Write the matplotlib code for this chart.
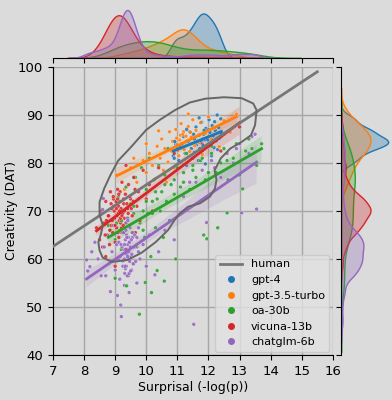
import matplotlib
matplotlib.use("Agg")
import matplotlib.pyplot as plt
from matplotlib.lines import Line2D
import numpy as np
import seaborn as sns

# ---- data (surprisal, creativity) ----
models = ["gpt-4", "gpt-3.5-turbo", "oa-30b", "vicuna-13b", "chatglm-6b"]
colors = ["#1f77b4", "#ff7f0e", "#2ca02c", "#d62728", "#9467bd"]

gpt4_x = [10.87, 10.95, 11.05, 11.1, 11.2, 11.25, 11.3, 11.35, 11.4, 11.45, 11.5, 11.55, 11.6, 11.62, 11.68,
          11.7, 11.75, 11.78, 11.8, 11.85, 11.88, 11.9, 11.92, 11.95, 12.0, 12.02, 12.05, 12.08, 12.1, 12.12,
          12.15, 12.18, 12.2, 12.22, 12.25, 12.28, 12.3, 12.33, 12.36, 12.4, 12.42, 11.3, 11.55, 12.0, 11.7,
          10.88, 10.9, 10.92, 11.0, 11.15, 11.45, 11.52, 11.65, 11.72, 11.82, 11.86, 11.98, 11.76, 11.83]
gpt4_y = [81.5, 84.0, 80.5, 83.5, 85.5, 82.0, 79.5, 84.5, 86.5, 83.0, 81.0, 85.0, 87.5, 83.8, 80.5,
          85.8, 84.2, 88.5, 82.5, 86.0, 84.8, 79.8, 87.2, 85.3, 83.5, 89.0, 86.4, 84.0, 81.5, 87.8,
          85.6, 83.2, 88.6, 86.8, 84.6, 90.0, 82.8, 87.4, 85.2, 89.2, 86.0, 87.0, 82.2, 86.9, 89.4,
          82.5, 81.0, 84.5, 83.0, 84.0, 84.0, 86.0, 84.5, 83.0, 85.0, 86.8, 84.8, 84.6, 83.6]

gpt35_x = [9.05, 9.3, 9.5, 9.7, 9.9, 10.0, 10.1, 10.2, 10.3, 10.35, 10.45, 10.5, 10.55, 10.6, 10.7,
           10.75, 10.8, 10.85, 10.9, 10.95, 11.0, 11.05, 11.1, 11.12, 11.15, 11.2, 11.25, 11.3, 11.35, 11.4,
           11.45, 11.5, 11.55, 11.6, 11.7, 11.75, 11.8, 11.9, 12.0, 12.1, 12.2, 12.35, 12.5, 12.7, 12.9,
           10.4, 11.35, 10.0, 9.6, 10.65, 11.08, 11.18, 11.22, 11.28, 11.42, 11.48, 11.02, 10.98]
gpt35_y = [77.5, 74.5, 79.0, 76.0, 80.5, 78.0, 82.0, 79.5, 76.8, 83.5, 81.0, 85.0, 78.5, 83.0, 80.2,
           86.5, 82.5, 84.5, 79.0, 87.0, 83.8, 81.5, 85.8, 88.2, 83.0, 86.5, 80.8, 84.6, 87.6, 82.4,
           85.4, 89.0, 83.6, 86.8, 84.2, 88.4, 81.8, 86.2, 89.6, 85.0, 87.4, 83.4, 88.8, 86.4, 90.2,
           86.7, 90.2, 84.0, 81.0, 76.0, 84.8, 86.0, 82.8, 85.6, 86.4, 84.0, 82.6, 85.2]

oa30_x = [8.78, 8.85, 8.9, 9.0, 9.05, 9.1, 9.15, 9.2, 9.25, 9.3, 9.35, 9.4, 9.45, 9.5, 9.55,
          9.6, 9.65, 9.7, 9.75, 9.78, 9.8, 9.85, 9.9, 9.95, 10.0, 10.05, 10.1, 10.15, 10.2, 10.25,
          10.3, 10.35, 10.4, 10.45, 10.5, 10.55, 10.6, 10.65, 10.7, 10.75, 10.8, 10.9, 11.0, 11.1, 11.2,
          11.3, 11.4, 11.5, 11.6, 11.75, 11.9, 12.0, 12.1, 12.25, 12.4, 12.6, 12.8, 13.0, 13.2, 13.4,
          13.55, 13.71, 11.85, 10.95, 12.3, 10.35, 10.58, 10.17, 9.37, 9.0, 9.97, 12.63, 13.1, 12.6, 11.95,
          9.2, 9.6, 10.0, 10.3, 10.6, 10.9, 11.2, 11.5, 11.8, 12.1, 12.5, 12.9, 13.3, 9.9, 10.2]
oa30_y = [67.0, 66.0, 70.5, 64.0, 67.5, 73.0, 66.0, 62.0, 69.5, 65.5, 75.0, 68.5, 60.0, 71.5, 65.5,
          69.5, 77.0, 62.5, 72.5, 48.5, 67.5, 79.0, 70.0, 64.5, 74.5, 69.5, 81.0, 60.5, 72.0, 76.5,
          66.5, 72.5, 79.5, 70.0, 74.0, 64.5, 77.5, 72.0, 83.0, 68.0, 75.5, 73.5, 79.0, 75.0, 76.0,
          82.0, 74.5, 78.5, 77.0, 80.5, 76.5, 78.0, 83.5, 78.0, 80.0, 80.5, 81.0, 77.5, 82.5, 83.0,
          79.5, 84.0, 65.0, 60.0, 66.5, 57.6, 55.4, 53.0, 54.4, 56.0, 55.1, 76.5, 74.6, 69.6, 64.2,
          68.0, 71.0, 72.0, 74.0, 75.5, 76.5, 78.0, 79.5, 81.0, 82.0, 83.0, 84.0, 85.0, 66.0, 69.5]

vicuna_x = [8.4, 8.5, 8.55, 8.6, 8.65, 8.7, 8.75, 8.8, 8.82, 8.85, 8.88, 8.9, 8.92, 8.95, 8.98,
            9.0, 9.02, 9.05, 9.08, 9.1, 9.12, 9.15, 9.18, 9.2, 9.22, 9.25, 9.28, 9.3, 9.33, 9.36,
            9.4, 9.43, 9.46, 9.5, 9.55, 9.6, 9.65, 9.7, 9.75, 9.8, 9.9, 10.0, 10.1, 10.2, 10.4,
            10.6, 10.9, 11.3, 11.8, 12.4, 13.0, 8.7, 9.35, 9.0,
            8.78, 8.83, 8.87, 8.91, 8.94, 8.97, 9.0, 9.03, 9.06, 9.09, 9.11, 9.13, 9.16, 9.19, 9.21,
            9.24, 9.27, 9.3, 9.34, 9.38, 9.42, 9.47, 9.52, 9.58, 9.64, 8.72, 8.68, 9.14, 9.17, 9.08,
            9.04, 9.26, 9.12, 8.95, 9.22]
vicuna_y = [66.5, 64.0, 70.0, 62.5, 67.5, 72.0, 65.0, 69.0, 63.0, 74.0, 67.0, 70.5, 65.5, 72.5, 68.5,
            63.5, 71.0, 66.5, 74.5, 69.5, 64.5, 72.0, 67.5, 70.0, 76.0, 65.5, 71.5, 68.5, 73.5, 62.0,
            70.5, 75.5, 67.0, 72.5, 69.0, 77.0, 65.5, 71.0, 74.0, 68.0, 78.5, 72.5, 75.5, 70.0, 79.0,
            76.5, 82.0, 80.0, 84.0, 82.5, 87.5, 60.5, 79.5, 58.5,
            69.0, 66.0, 71.5, 68.0, 73.0, 70.0, 67.0, 72.0, 69.0, 65.5, 71.0, 68.0, 74.0, 70.5, 66.5,
            69.5, 72.5, 70.0, 67.5, 71.5, 69.5, 73.0, 70.5, 72.0, 74.5, 68.0, 65.0, 70.0, 68.5, 72.5,
            70.5, 67.0, 73.5, 71.0, 69.0]

chatglm_x = [8.08, 8.12, 8.19, 8.25, 8.35, 8.45, 8.55, 8.62, 8.65, 8.7, 8.75, 8.8, 8.85, 8.9, 8.95,
             9.0, 9.05, 9.07, 9.1, 9.15, 9.18, 9.2, 9.25, 9.28, 9.3, 9.33, 9.36, 9.4, 9.43, 9.46,
             9.5, 9.53, 9.56, 9.6, 9.65, 9.7, 9.75, 9.8, 9.9, 10.0, 10.1, 10.28, 10.4, 10.6, 10.9,
             11.2, 11.53, 11.94, 12.4, 13.07, 13.55, 9.2, 8.6, 9.45, 11.6, 12.2, 12.8, 13.3,
             11.4, 11.8, 12.1, 12.6, 13.0, 13.4, 12.9, 13.5,
             9.22, 9.25, 9.28, 9.3, 9.31, 9.33, 9.34, 9.35, 9.36, 9.37, 9.38, 9.39, 9.4, 9.41, 9.42,
             9.43, 9.44, 9.45, 9.46, 9.47, 9.48, 9.49, 9.5, 9.52, 9.54, 9.56, 9.58, 9.6, 9.63, 9.66,
             9.12, 9.16, 9.19, 9.7, 9.75, 9.35, 9.3, 9.4, 9.38, 9.32]
chatglm_y = [59.8, 57.5, 58.4, 61.5, 63.5, 60.0, 56.5, 72.6, 62.5, 56.5, 65.0, 59.0, 53.2, 61.5, 67.0,
             57.7, 63.0, 52.4, 60.0, 55.8, 50.4, 65.5, 59.6, 62.0, 54.5, 58.0, 61.0, 68.5, 56.5, 63.5,
             60.5, 57.7, 64.5, 59.0, 62.5, 55.0, 66.5, 60.0, 63.0, 58.5, 65.0, 56.7, 61.5, 66.0, 64.0,
             73.0, 46.4, 67.6, 77.0, 69.6, 70.4, 48.0, 70.3, 53.0, 76.0, 79.0, 80.0, 82.0,
             76.0, 78.5, 80.5, 82.0, 84.0, 85.5, 83.0, 86.0,
             62.5, 58.5, 65.5, 60.0, 57.0, 64.0, 62.0, 67.5, 58.5, 65.0, 61.0, 56.5, 63.0, 68.0, 60.0,
             64.5, 61.5, 57.0, 63.5, 59.5, 66.5, 62.5, 57.5, 64.0, 61.0, 65.5, 59.0, 62.5, 65.0, 59.5,
             63.5, 60.5, 63.0, 64.5, 61.5, 66.0, 63.0, 60.5, 64.5, 58.5]

xs = [gpt4_x, gpt35_x, oa30_x, vicuna_x, chatglm_x]
ys = [gpt4_y, gpt35_y, oa30_y, vicuna_y, chatglm_y]

# human: density contour outline and regression line
human_contour_x = [8.9, 8.6, 8.5, 8.46, 8.55, 8.6, 8.5, 8.5, 8.65, 8.85, 9.1, 9.48, 10.0, 10.44, 10.92,
                   11.4, 11.9, 12.5, 13.07, 13.44, 13.55, 13.5, 13.37, 13.07, 12.7, 12.4, 12.2, 12.26,
                   12.21, 12.05, 11.73, 11.35, 11.08, 10.9, 10.7, 10.3, 9.85, 9.4, 8.9]
human_contour_y = [59.4, 60.3, 61.8, 63.5, 65.3, 67.1, 69.2, 71.9, 74.7, 77.5, 80.5, 83.1, 86.9, 89.0, 91.0,
                   92.6, 93.4, 93.7, 93.5, 92.4, 91.0, 87.9, 85.8, 84.4, 83.0, 81.0, 78.5, 76.5,
                   74.7, 73.0, 71.6, 70.9, 69.5, 68.0, 66.0, 63.5, 61.3, 59.8, 59.4]
human_line_x = [7.0, 15.5]
human_line_y = [62.6, 99.0]

# kde smoothing per model (top / right marginals)
bw_top = [0.9, 0.8, 0.8, 1.0, 0.4]
bw_right = [0.8, 1.1, 0.8, 0.5, 0.4]

bg = "#dbdbdb"
plt.rcParams["font.family"] = "DejaVu Sans"
plt.rcParams["font.size"] = 9

fig = plt.figure(figsize=(3.92, 4.0), dpi=100, facecolor=bg)
ax = fig.add_axes([0.135, 0.1125, 0.714, 0.72], facecolor=bg)
ax_top = fig.add_axes([0.135, 0.855, 0.714, 0.145], facecolor=bg, sharex=ax)
ax_right = fig.add_axes([0.870, 0.1125, 0.13, 0.72], facecolor=bg, sharey=ax)

# scatter, drawn interleaved so no group sits fully on top
px, py, pc, order = [], [], [], []
for i, (x, y) in enumerate(zip(xs, ys)):
    px += x
    py += y
    pc += [colors[i]] * len(x)
    order += list(np.arange(len(x)) * 5 + i)
idx = np.argsort(order)
ax.scatter(np.array(px)[idx], np.array(py)[idx], c=np.array(pc)[idx], s=8,
           edgecolor="white", linewidth=0.25, alpha=0.85, zorder=3)

# regression lines with CI bands
for i, (x, y) in enumerate(zip(xs, ys)):
    sns.regplot(x=np.array(x), y=np.array(y), ax=ax, scatter=False, color=colors[i],
                ci=95, n_boot=500, seed=0, line_kws={"lw": 2, "zorder": 4})

ax.plot(human_line_x, human_line_y, color="#777777", lw=2, zorder=4)
ax.plot(human_contour_x, human_contour_y, color="#666666", lw=1.4, zorder=4)

# marginal KDEs
for i, (x, y) in enumerate(zip(xs, ys)):
    sns.kdeplot(x=np.array(x), ax=ax_top, color=colors[i], fill=True, alpha=0.3, lw=1,
                bw_adjust=bw_top[i])
    sns.kdeplot(y=np.array(y), ax=ax_right, color=colors[i], fill=True, alpha=0.3, lw=1,
                bw_adjust=bw_right[i])

ax.set_xlim(7, 16)
ax.set_ylim(40, 100)
ax.set_xticks(range(7, 17))
ax.set_yticks(range(40, 101, 10))
ax.tick_params(labelsize=9.5)
ax.grid(True, color="#a6a6a6", lw=1)
ax.set_axisbelow(True)
for s in ["top", "right"]:
    ax.spines[s].set_visible(False)
ax.set_xlabel("Surprisal (-log(p))", fontsize=9, labelpad=2)
ax.set_ylabel("Creativity (DAT)", fontsize=9)
ax.yaxis.set_label_coords(-0.125, 0.5)

ax_top.set_ylim(0, ax_top.get_ylim()[1] * 1.15)
ax_top.tick_params(labelbottom=False, left=False, labelleft=False)
ax_top.set_ylabel("")
for s in ["top", "right", "left"]:
    ax_top.spines[s].set_visible(False)

ax_right.set_xlim(0, ax_right.get_xlim()[1] * 1.03)
ax_right.tick_params(labelleft=False, bottom=False, labelbottom=False)
ax_right.set_xlabel("")
for s in ["top", "right", "bottom"]:
    ax_right.spines[s].set_visible(False)

handles = [Line2D([], [], color="#777777", lw=2, label="human")]
for m, c in zip(models, colors):
    handles.append(Line2D([], [], color=c, marker="o", ls="", markersize=4, label=m))
ax.legend(handles=handles, loc="lower right", facecolor="#e2e2e2", edgecolor="#c8c8c8",
          fontsize=8, borderpad=0.4, labelspacing=0.5, handlelength=2.0, borderaxespad=0.3)

fig.savefig("out.png", dpi=100, facecolor=bg)
